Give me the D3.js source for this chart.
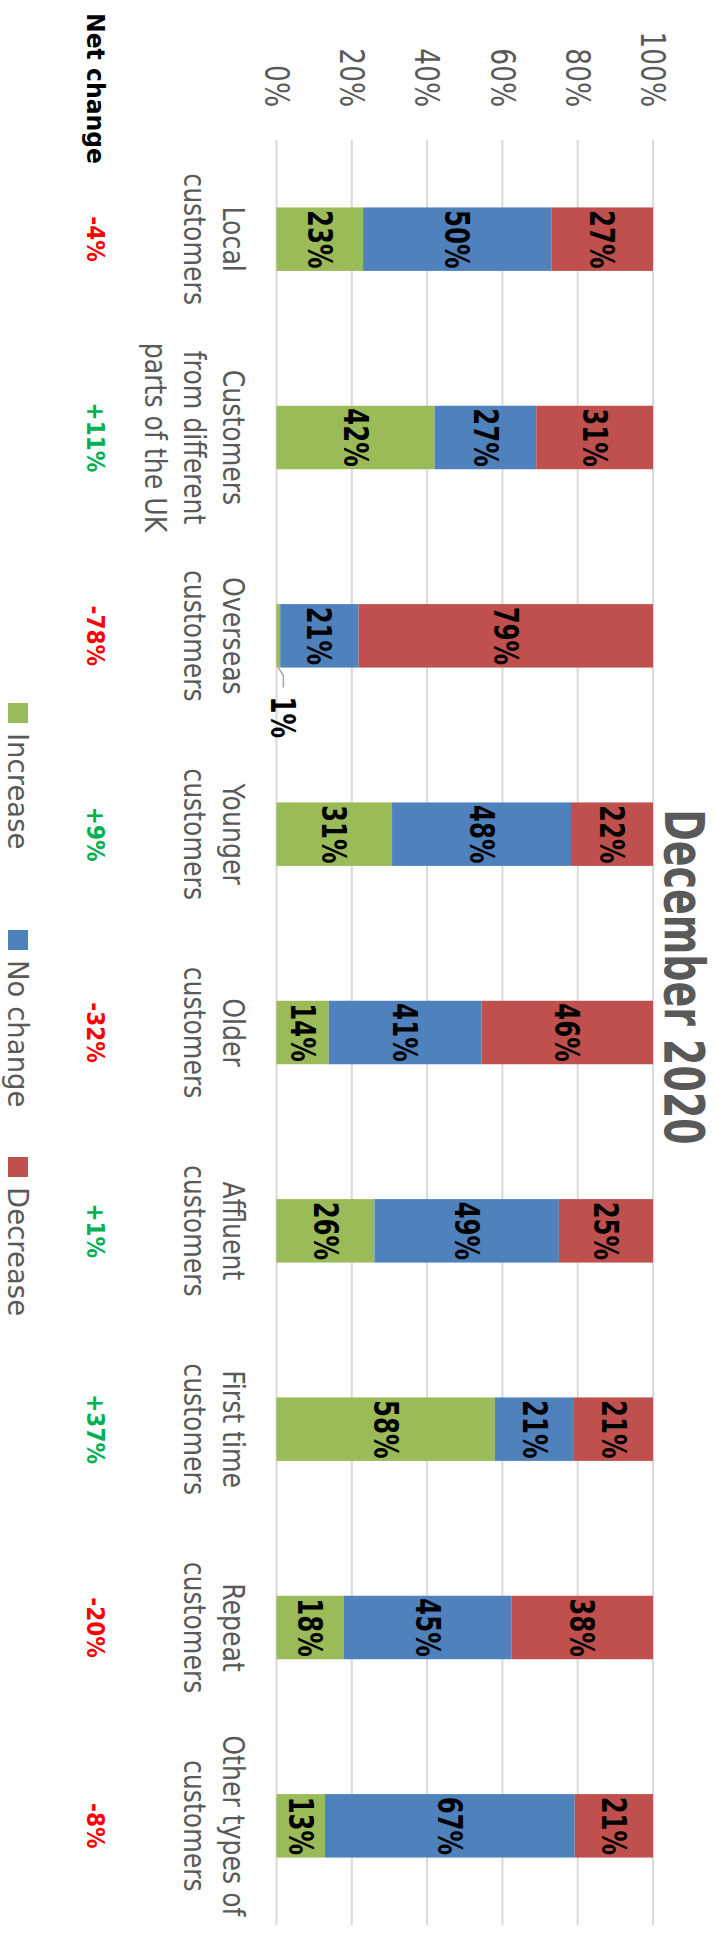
<!DOCTYPE html>
<html>
<head>
<meta charset="utf-8">
<script src="https://cdn.jsdelivr.net/npm/d3@7"></script>
<style>
  body { margin: 0; background: #fff; }
  svg { display: block; }
</style>
</head>
<body>
<script>
const [width, height] = [717, 1939];

// data
const categories = ['Local', 'Different UK', 'Overseas', 'Younger', 'Older', 'Affluent', 'First time', 'Repeat', 'Other'];
const categoryLines = [
  ['Local', 'customers'],
  ['Customers', 'from different', 'parts of the UK'],
  ['Overseas', 'customers'],
  ['Younger', 'customers'],
  ['Older', 'customers'],
  ['Affluent', 'customers'],
  ['First time', 'customers'],
  ['Repeat', 'customers'],
  ['Other types of', 'customers']
];
const increase = [23, 42, 1, 31, 14, 26, 58, 18, 13];
const noChange = [50, 27, 21, 48, 41, 49, 21, 45, 67];
const decrease = [27, 31, 79, 22, 46, 25, 21, 38, 21];
const netChange = [-4, 11, -78, 9, -32, 1, 37, -20, -8];
const seriesNames = ['Increase', 'No change', 'Decrease'];
const seriesColors = ['#9BBB59', '#4F81BD', '#C0504D'];
const yTicks = [0, 0.2, 0.4, 0.6, 0.8, 1];
const title = 'December 2020';

const rows = categories.map((c, i) => ({
  cat: c,
  'Increase': increase[i],
  'No change': noChange[i],
  'Decrease': decrease[i]
}));

const svg = d3.select('body').append('svg')
  .attr('width', width)
  .attr('height', height);

// the whole chart is drawn lying on its side
const g = svg.append('g')
  .attr('transform', `translate(${width},0) rotate(90)`);

const x = d3.scaleBand()
  .domain(categories)
  .range([140, 1925])
  .paddingInner(0.68)
  .paddingOuter(0.34);
const y = d3.scaleLinear()
  .domain([0, 1])
  .range([440.5, 64]);
const color = d3.scaleOrdinal().domain(seriesNames).range(seriesColors);

const sans = 'DejaVu Sans, sans-serif';

// gridlines + tick labels
const grid = g.append('g').attr('class', 'grid');
grid.selectAll('line')
  .data(yTicks)
  .join('line')
  .attr('x1', x.range()[0])
  .attr('x2', x.range()[1])
  .attr('y1', d => y(d))
  .attr('y2', d => y(d))
  .attr('stroke', '#D9D9D9')
  .attr('stroke-width', 2);
grid.selectAll('text')
  .data(yTicks)
  .join('text')
  .attr('transform', d => `translate(107,${y(d)}) scale(0.8,1)`)
  .attr('dy', '0.36em')
  .attr('text-anchor', 'end')
  .attr('font-family', sans)
  .attr('font-size', 33)
  .attr('fill', '#595959')
  .text(d3.format('.0%'));

// stacked bars
const stacked = d3.stack().keys(seriesNames).offset(d3.stackOffsetExpand)(rows);
const layers = g.append('g').attr('class', 'bars')
  .selectAll('g')
  .data(stacked)
  .join('g')
  .attr('fill', d => color(d.key));
layers.selectAll('rect')
  .data(d => d)
  .join('rect')
  .attr('x', d => x(d.data.cat))
  .attr('width', x.bandwidth())
  .attr('y', d => y(d[1]))
  .attr('height', d => y(d[0]) - y(d[1]));

// segment labels
const segs = stacked.flatMap(l => l.map(s => ({
  cat: s.data.cat, key: l.key, value: s.data[l.key], y0: s[0], y1: s[1]
})));
const inside = segs.filter(d => y(d.y0) - y(d.y1) > 20);
const outside = segs.filter(d => y(d.y0) - y(d.y1) <= 20);

g.append('g').selectAll('text')
  .data(inside)
  .join('text')
  .attr('transform', d => `translate(${x(d.cat) + x.bandwidth() / 2},${y((d.y0 + d.y1) / 2)}) scale(0.74,1)`)
  .attr('dy', '0.36em')
  .attr('text-anchor', 'middle')
  .attr('font-family', sans)
  .attr('font-weight', 'bold')
  .attr('font-size', 33)
  .attr('fill', '#000')
  .text(d => d.value + '%');

// small slices get their label outside, with a leader line
const out = g.append('g').selectAll('g')
  .data(outside)
  .join('g');
out.append('path')
  .attr('d', d => {
    const u0 = x(d.cat) + x.bandwidth();
    const v0 = y((d.y0 + d.y1) / 2);
    return `M${u0},${v0} L${u0 + 8},${v0 - 5} L${u0 + 20},${v0 - 5}`;
  })
  .attr('fill', 'none')
  .attr('stroke', '#A6A6A6')
  .attr('stroke-width', 1.5);
out.append('text')
  .attr('transform', d => `translate(${x(d.cat) + x.bandwidth() + 29},${y((d.y0 + d.y1) / 2) - 5}) scale(0.74,1)`)
  .attr('dy', '0.36em')
  .attr('font-family', sans)
  .attr('font-weight', 'bold')
  .attr('font-size', 33)
  .attr('fill', '#000')
  .text(d => d.value + '%');

// category labels
const catLabels = g.append('g').selectAll('text')
  .data(categories)
  .join('text')
  .attr('transform', d => `translate(${x(d) + x.bandwidth() / 2},494) scale(0.84,1)`)
  .attr('text-anchor', 'middle')
  .attr('font-family', sans)
  .attr('font-size', 30)
  .attr('fill', '#595959');
catLabels.selectAll('tspan')
  .data((d, i) => categoryLines[i])
  .join('tspan')
  .attr('x', 0)
  .attr('y', (d, i) => i * 39)
  .text(d => d);

// net change row
g.append('text')
  .attr('transform', 'translate(13,630) scale(0.94,1)')
  .attr('font-family', sans)
  .attr('font-weight', 'bold')
  .attr('font-size', 25)
  .attr('fill', '#000')
  .text('Net change');
g.append('g').selectAll('text')
  .data(categories)
  .join('text')
  .attr('transform', d => `translate(${x(d) + x.bandwidth() / 2},630) scale(0.9,1)`)
  .attr('text-anchor', 'middle')
  .attr('font-family', sans)
  .attr('font-weight', 'bold')
  .attr('font-size', 24)
  .attr('fill', (d, i) => netChange[i] < 0 ? '#FF0000' : '#00B050')
  .text((d, i) => (netChange[i] > 0 ? '+' : '') + netChange[i] + '%');

// title
g.append('text')
  .attr('transform', 'translate(977,52) scale(0.69,1)')
  .attr('text-anchor', 'middle')
  .attr('font-family', sans)
  .attr('font-weight', 'bold')
  .attr('font-size', 55)
  .attr('fill', '#595959')
  .text(title);

// legend
const legend = g.append('g').selectAll('g')
  .data(seriesNames)
  .join('g')
  .attr('transform', (d, i) => `translate(${703 + i * 227},689)`);
legend.append('rect')
  .attr('width', 20)
  .attr('height', 20)
  .attr('fill', d => color(d));
legend.append('text')
  .attr('transform', 'translate(30,20) scale(0.95,1)')
  .attr('font-family', sans)
  .attr('font-size', 29)
  .attr('fill', '#595959')
  .text(d => d);
</script>
</body>
</html>
